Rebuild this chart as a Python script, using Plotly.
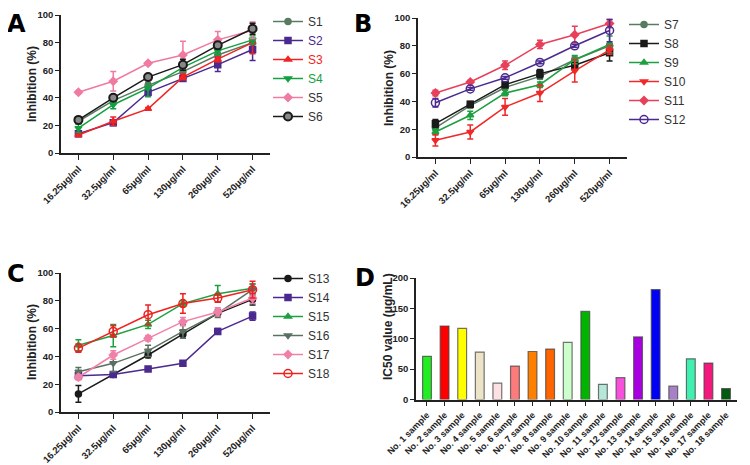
import plotly.graph_objects as go

# Dataset
conc = ['16.25μg/ml', '32.5μg/ml', '65μg/ml', '130μg/ml', '260μg/ml', '520μg/ml']

names_a = ['S1', 'S2', 'S3', 'S4', 'S5', 'S6']
vals_a = [
    [23, 38, 49, 59, 71, 80],
    [14, 22, 44, 54, 64, 75],
    [13, 23, 32, 55, 68, 80],
    [18, 35, 47, 62, 74, 82],
    [44, 52, 65, 71, 82, 89],
    [24, 40, 55, 64, 78, 90],
]
err_a = [
    [2, 2, 2, 2, 2, 3],
    [2, 2, 3, 2, 5, 8],
    [1, 3, 1, 2, 2, 8],
    [3, 3, 6, 2, 3, 3],
    [1, 7, 1, 10, 6, 6],
    [2, 2, 1, 4, 2, 4],
]

names_b = ['S7', 'S8', 'S9', 'S10', 'S11', 'S12']
vals_b = [
    [21, 37, 50, 58, 70, 80],
    [24, 38, 52, 60, 66, 75],
    [18, 30, 46, 52, 70, 81],
    [12, 18, 36, 46, 62, 77],
    [46, 54, 66, 81, 88, 96],
    [39, 49, 57, 68, 80, 91],
]
err_b = [
    [2, 2, 2, 2, 2, 2],
    [3, 2, 2, 3, 3, 6],
    [2, 3, 2, 2, 3, 6],
    [4, 5, 6, 6, 8, 3],
    [2, 1, 3, 3, 6, 3],
    [3, 1, 1, 1, 1, 8],
]

names_c = ['S13', 'S14', 'S15', 'S16', 'S17', 'S18']
vals_c = [
    [13, 27, 41, 56, 71, 81],
    [26, 27, 31, 35, 58, 69],
    [48, 55, 63, 78, 85, 89],
    [29, 35, 44, 58, 71, 88],
    [25, 41, 53, 65, 72, 82],
    [46, 58, 70, 78, 82, 88],
]
err_c = [
    [6, 1, 2, 3, 2, 4],
    [1, 1, 1, 1, 2, 3],
    [4, 8, 3, 2, 6, 3],
    [3, 6, 4, 5, 3, 4],
    [2, 3, 2, 3, 3, 4],
    [3, 4, 7, 7, 3, 6],
]

samples = ['No. %d sample' % i for i in range(1, 19)]
ic50 = [71, 121, 117, 78, 27, 55, 79, 83, 94, 145, 25, 36, 103, 181, 22, 67, 60, 18]
bar_colors = ['#22ee22', '#ff0000', '#ffff00', '#ede3c6', '#fde0e2', '#ff7a7a', '#ff8000', '#ff6400',
              '#ccffcc', '#00b400', '#b4e8d8', '#f650dc', '#a800e0', '#0000f5', '#a880c8', '#40f0b0',
              '#f4187c', '#005a10']

styles_a = [('#5a7a62', 'circle'), ('#4b2a90', 'square'), ('#f02424', 'triangle-up'),
            ('#12a040', 'triangle-down'), ('#f07aa0', 'diamond'), ('#1a1a1a', 'circle')]
styles_b = [('#5a7a62', 'circle'), ('#1a1a1a', 'square'), ('#1ea040', 'triangle-up'),
            ('#f02828', 'triangle-down'), ('#e8405a', 'diamond'), ('#4b2a90', 'circle-open')]
styles_c = [('#1a1a1a', 'circle'), ('#4b2a90', 'square'), ('#1ea040', 'triangle-up'),
            ('#5a7060', 'triangle-down'), ('#f080a8', 'diamond'), ('#f02020', 'circle-open')]
legend_text_a = ['#333333', '#4b2a90', '#f02424', '#12a040', '#333333', '#333333']

# the page body has an 8px margin: figure sits at (8, 8) and runs to the window edge
OFF = 8
W, H = 750 - OFF, 465 - OFF
FONT = 'Liberation Sans'


def fx(x):
    return (x - OFF) / W


def fy(y):
    return 1 - (y - OFF) / H


fig = go.Figure()


def add_lines(names, vals, errs, styles, xa, ya, legend, text_colors=None):
    for i, name in enumerate(names):
        color, sym = styles[i]
        label = name
        if text_colors:
            label = "<span style='color:%s'>%s</span>" % (text_colors[i], name)
        marker = dict(color=color, symbol=sym, size=6, line=dict(color=color, width=1.5))
        if name == 'S6':
            marker = dict(color='#888888', symbol='circle', size=8, line=dict(color='#1a1a1a', width=2))
        if sym == 'circle-open':
            marker = dict(color=color, symbol='circle-open', size=8, line=dict(color=color, width=1.5))
        fig.add_trace(go.Scatter(
            x=conc, y=vals[i], name=label, mode='lines+markers',
            line=dict(color=color, width=1.5), marker=marker,
            error_y=dict(type='data', array=errs[i], color=color, thickness=1.5, width=3),
            xaxis=xa, yaxis=ya, legend=legend, cliponaxis=False,
        ))


add_lines(names_a, vals_a, err_a, styles_a, 'x', 'y', 'legend', legend_text_a)
add_lines(names_b, vals_b, err_b, styles_b, 'x2', 'y2', 'legend2')
add_lines(names_c, vals_c, err_c, styles_c, 'x3', 'y3', 'legend3')

fig.add_trace(go.Bar(
    x=samples, y=ic50, marker=dict(color=bar_colors, line=dict(color='rgba(70,70,70,0.75)', width=1.2)),
    width=0.5, xaxis='x4', yaxis='y4', showlegend=False,
))

tick_font = dict(family=FONT, size=9.5, color='#222222', weight='bold')
title_font = dict(family=FONT, size=12, color='#222222', weight='bold')


def xax(x0, x1, anchor, cats, rng, size=9.5):
    return dict(domain=[fx(x0), fx(x1)], anchor=anchor, type='category', categoryorder='array',
                categoryarray=cats, range=rng, showline=True, linecolor='#222222', linewidth=1.6,
                ticks='outside', ticklen=5, tickwidth=1.4, tickcolor='#222222', tickangle=-45,
                tickfont=dict(tick_font, size=size), showgrid=False, zeroline=False, automargin=False)


def yax(y0, y1, anchor, rng, dtick):
    return dict(domain=[fy(y0), fy(y1)], anchor=anchor, range=rng, dtick=dtick, showline=True,
                linecolor='#222222', linewidth=1.6, ticks='outside', ticklen=4, tickwidth=1.4,
                tickcolor='#222222', tickfont=tick_font, showgrid=False, zeroline=False, automargin=False)


legend_base = dict(font=dict(family=FONT, size=12, color='#333333'), bgcolor='rgba(0,0,0,0)',
                   xanchor='left', yanchor='top', tracegroupgap=0, itemwidth=30)

fig.update_layout(
    width=W, height=H, margin=dict(l=0, r=0, t=0, b=0, autoexpand=False),
    plot_bgcolor='white', paper_bgcolor='white',
    font=dict(family=FONT),
    xaxis=xax(61, 270, 'y', conc, [-0.5, 5.5]),
    yaxis=yax(153, 15, 'x', [0, 100], 20),
    xaxis2=xax(418, 627, 'y2', conc, [-0.5, 5.5]),
    yaxis2=yax(157, 18, 'x2', [0, 100], 20),
    xaxis3=xax(61, 270, 'y3', conc, [-0.5, 5.5]),
    yaxis3=yax(412, 273, 'x3', [0, 100], 20),
    xaxis4=xax(416, 737, 'y4', samples, [-0.625, 17.625], size=9),
    yaxis4=yax(399.5, 278, 'x4', [0, 200], 50),
    legend=dict(legend_base, x=fx(268), y=fy(7)),
    legend2=dict(legend_base, x=fx(624), y=fy(10)),
    legend3=dict(legend_base, x=fx(268), y=fy(264)),
    showlegend=True,
)

# axis titles
for txt, x, y in [('Inhibition (%)', 32, 84), ('Inhibition (%)', 389, 88),
                  ('Inhibition (%)', 32, 342), ('IC50 value (μg/mL)', 388, 327)]:
    fig.add_annotation(text=txt, x=fx(x), y=fy(y), xref='paper', yref='paper', showarrow=False,
                       textangle=-90, xanchor='center', yanchor='middle', font=title_font)

# panel letters (top row anchored at the top edge so the text box stays inside)
for lbl, x, y, anc in [('A', 16, 8, 'top'), ('B', 363, 8, 'top'),
                       ('C', 16, 274, 'middle'), ('D', 365, 278, 'middle')]:
    fig.add_annotation(text=lbl, x=fx(x), y=fy(y), xref='paper', yref='paper',
                       showarrow=False, xanchor='center', yanchor=anc,
                       font=dict(family='DejaVu Sans', size=24, color='black', weight='bold'))

fig.write_html("out.html")
